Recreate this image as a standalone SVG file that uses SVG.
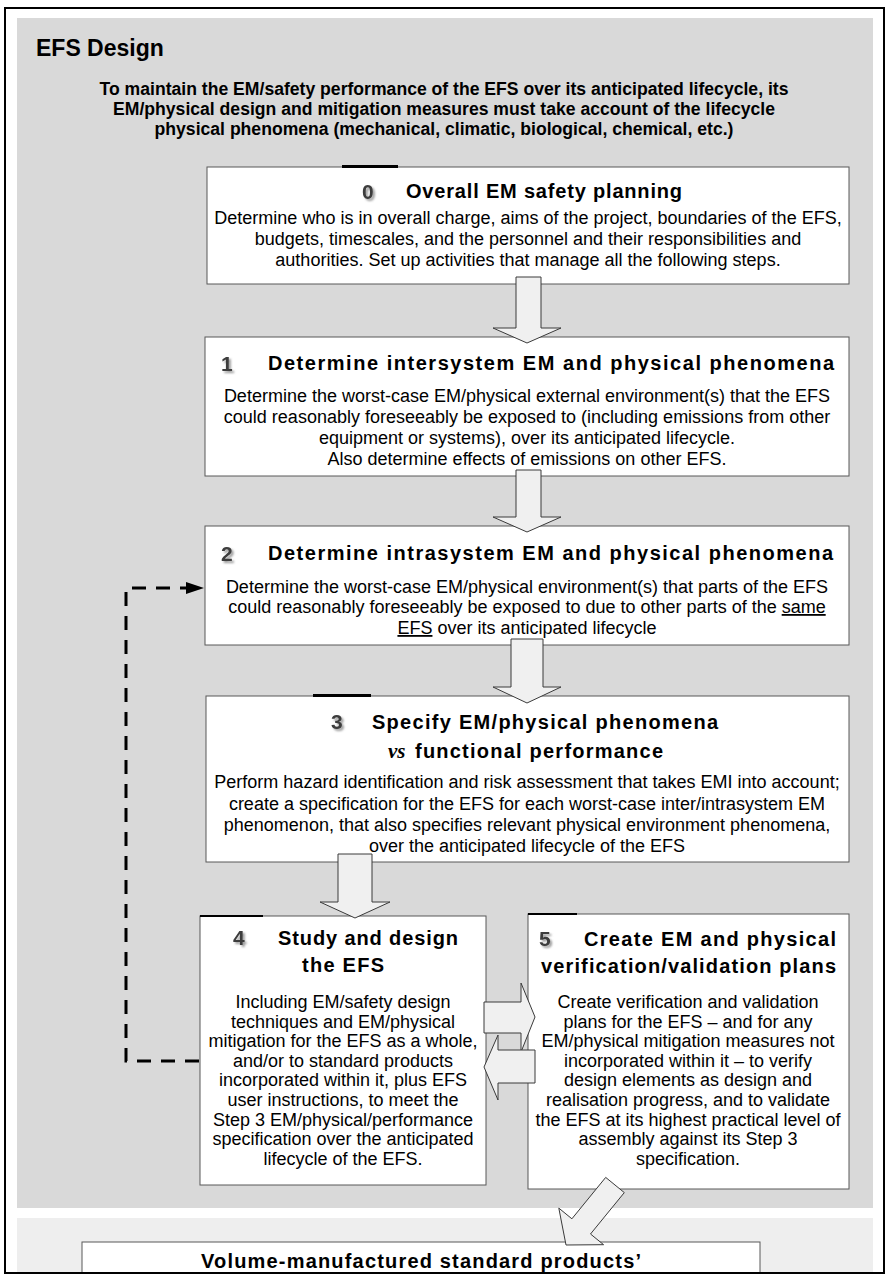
<svg xmlns="http://www.w3.org/2000/svg" width="889" height="1277" viewBox="0 0 889 1277">
<defs>
  <!-- soft shadow used on the step numbers -->
  <filter id="soft" x="-40%" y="-40%" width="200%" height="200%">
    <feGaussianBlur in="SourceAlpha" stdDeviation="1.3" result="b"/>
    <feOffset in="b" dx="1.5" dy="1.5" result="o"/>
    <feFlood flood-color="#808080" flood-opacity="0.8"/>
    <feComposite in2="o" operator="in" result="s"/>
    <feGaussianBlur in="SourceGraphic" stdDeviation="0.35" result="g"/>
    <feMerge><feMergeNode in="s"/><feMergeNode in="g"/></feMerge>
  </filter>
</defs>
<style>
  text{font-family:"Liberation Sans",Arial,Helvetica,sans-serif;fill:#000}
  .head{font-size:23px;font-weight:bold}
  .sub{font-size:17.6px;font-weight:bold;text-anchor:middle}
  .box{fill:#fff;stroke:#595959;stroke-width:1}
  .bar{fill:#000}
  .ttl{font-size:20px;font-weight:bold}
  .num{font-size:21px;font-weight:bold;fill:#3c3c3c;filter:url(#soft)}
  .body{font-size:18px;text-anchor:middle}
  .vs{font-family:"Liberation Serif","Times New Roman",serif;font-style:italic;font-weight:bold;font-size:21px}
  .blk{fill:#f0f0f0;stroke:#3a3a3a;stroke-width:1}
  .dash{fill:none;stroke:#000;stroke-width:3;stroke-dasharray:14 10}
</style>

<!-- page background and panels -->
<rect x="0" y="0" width="889" height="1277" fill="#fff"/>
<rect x="17" y="18" width="856" height="1190" fill="#d9d9d9"/>
<rect x="17" y="1218" width="856" height="55" fill="#eeeeee"/>

<g id="header">
  <text class="head" x="36" y="56">EFS Design</text>
  <text class="sub" x="444" y="95">To maintain the EM/safety performance of the EFS over its anticipated lifecycle, its</text>
  <text class="sub" x="444" y="115">EM/physical design and mitigation measures must take account of the lifecycle</text>
  <text class="sub" x="444" y="135">physical phenomena (mechanical, climatic, biological, chemical, etc.)</text>
</g>

<g id="step0">
  <rect class="box" x="207" y="167" width="642" height="117"/>
  <rect class="bar" x="342" y="165" width="56" height="3"/>
  <text class="num" x="362" y="199">0</text>
  <text class="ttl" x="406" y="198" textLength="276" lengthAdjust="spacing">Overall EM safety planning</text>
  <text class="body" x="528" y="224">Determine who is in overall charge, aims of the project, boundaries of the EFS,</text>
  <text class="body" x="528" y="245">budgets, timescales, and the personnel and their responsibilities and</text>
  <text class="body" x="528" y="266">authorities. Set up activities that manage all the following steps.</text>
</g>

<g id="step1">
  <rect class="box" x="205" y="337" width="644" height="139"/>
  <text class="num" x="221" y="371">1</text>
  <text class="ttl" x="268" y="370" textLength="566" lengthAdjust="spacing">Determine intersystem EM and physical phenomena</text>
  <text class="body" x="527" y="402">Determine the worst-case EM/physical external environment(s) that the EFS</text>
  <text class="body" x="527" y="423">could reasonably foreseeably be exposed to (including emissions from other</text>
  <text class="body" x="527" y="444">equipment or systems), over its anticipated lifecycle.</text>
  <text class="body" x="527" y="465">Also determine effects of emissions on other EFS.</text>
</g>

<g id="step2">
  <rect class="box" x="205" y="526" width="644" height="119"/>
  <text class="num" x="221" y="561">2</text>
  <text class="ttl" x="268" y="560" textLength="565" lengthAdjust="spacing">Determine intrasystem EM and physical phenomena</text>
  <text class="body" x="527" y="593">Determine the worst-case EM/physical environment(s) that parts of the EFS</text>
  <text class="body" x="527" y="613">could reasonably foreseeably be exposed to due to other parts of the <tspan text-decoration="underline">same</tspan></text>
  <text class="body" x="527" y="634"><tspan text-decoration="underline">EFS</tspan> over its anticipated lifecycle</text>
</g>

<g id="step3">
  <rect class="box" x="206" y="696" width="643" height="166"/>
  <rect class="bar" x="313" y="694" width="58" height="3"/>
  <text class="num" x="331" y="729">3</text>
  <text class="ttl" x="372" y="729" textLength="346" lengthAdjust="spacing">Specify EM/physical phenomena</text>
  <text class="vs" x="388" y="758">vs</text>
  <text class="ttl" x="415" y="758" textLength="248" lengthAdjust="spacing">functional performance</text>
  <text class="body" x="527" y="788">Perform hazard identification and risk assessment that takes EMI into account;</text>
  <text class="body" x="527" y="810">create a specification for the EFS for each worst-case inter/intrasystem EM</text>
  <text class="body" x="527" y="831">phenomenon, that also specifies relevant physical environment phenomena,</text>
  <text class="body" x="527" y="852">over the anticipated lifecycle of the EFS</text>
</g>

<g id="step4">
  <rect class="box" x="200" y="916" width="286" height="269"/>
  <rect class="bar" x="200" y="915" width="63" height="2"/>
  <text class="num" x="233" y="945">4</text>
  <text class="ttl" x="278" y="945" textLength="180" lengthAdjust="spacing">Study and design</text>
  <text class="ttl" x="302" y="972" textLength="82" lengthAdjust="spacing">the EFS</text>
  <text class="body" x="343" y="1008">Including EM/safety design</text>
  <text class="body" x="343" y="1027.6">techniques and EM/physical</text>
  <text class="body" x="343" y="1047.2">mitigation for the EFS as a whole,</text>
  <text class="body" x="343" y="1066.8">and/or to standard products</text>
  <text class="body" x="343" y="1086.4">incorporated within it, plus EFS</text>
  <text class="body" x="343" y="1106">user instructions, to meet the</text>
  <text class="body" x="343" y="1125.6">Step 3 EM/physical/performance</text>
  <text class="body" x="343" y="1145.2">specification over the anticipated</text>
  <text class="body" x="343" y="1164.8">lifecycle of the EFS.</text>
</g>

<g id="step5">
  <rect class="box" x="528" y="914" width="321" height="275"/>
  <rect class="bar" x="528" y="913" width="49" height="2"/>
  <text class="num" x="539" y="946">5</text>
  <text class="ttl" x="584" y="946" textLength="252" lengthAdjust="spacing">Create EM and physical</text>
  <text class="ttl" x="541" y="973" textLength="295" lengthAdjust="spacing">verification/validation plans</text>
  <text class="body" x="688" y="1008">Create verification and validation</text>
  <text class="body" x="688" y="1027.6">plans for the EFS – and for any</text>
  <text class="body" x="688" y="1047.2">EM/physical mitigation measures not</text>
  <text class="body" x="688" y="1066.8">incorporated within it – to verify</text>
  <text class="body" x="688" y="1086.4">design elements as design and</text>
  <text class="body" x="688" y="1106">realisation progress, and to validate</text>
  <text class="body" x="688" y="1125.6">the EFS at its highest practical level of</text>
  <text class="body" x="688" y="1145.2">assembly against its Step 3</text>
  <text class="body" x="688" y="1164.8">specification.</text>
</g>

<g id="products">
  <rect class="box" x="82" y="1242" width="678" height="31"/>
  <text class="ttl" x="201" y="1268" textLength="440" lengthAdjust="spacing">Volume-manufactured standard products’</text>
</g>

<g id="connectors">
  <!-- block arrows down the main sequence -->
  <polygon class="blk" points="516,277 541,277 541,328 561,328 527,343 493,328 516,328"/>
  <polygon class="blk" points="516,470 541,470 541,517 561,517 527,532 493,517 516,517"/>
  <polygon class="blk" points="511,639 543,639 543,687 561,687 527,703 493,687 511,687"/>
  <polygon class="blk" points="338,854 372,854 372,902 390,902 355,918 320,902 338,902"/>
  <!-- exchange between steps 4 and 5 -->
  <polygon class="blk" points="484,1002 521,1002 521,983 535,1017 521,1052 521,1033 484,1033"/>
  <polygon class="blk" points="535,1050 498,1050 498,1035 484,1067 498,1100 498,1083 535,1083"/>
  <!-- step 5 down to standard products -->
  <polygon class="blk" points="605.7,1177.4 571.9,1218.8 558.8,1208.1 566,1245 603.6,1244.7 590.5,1234 624.3,1192.6"/>
  <!-- feedback from step 4 to step 2 -->
  <path class="dash" d="M199,1061 H126 V588 H186"/>
  <polygon points="186,582 204,588 186,594" fill="#000"/>
</g>

<!-- outer frame -->
<rect x="5" y="8" width="879" height="1265" fill="none" stroke="#000" stroke-width="2"/>
</svg>
